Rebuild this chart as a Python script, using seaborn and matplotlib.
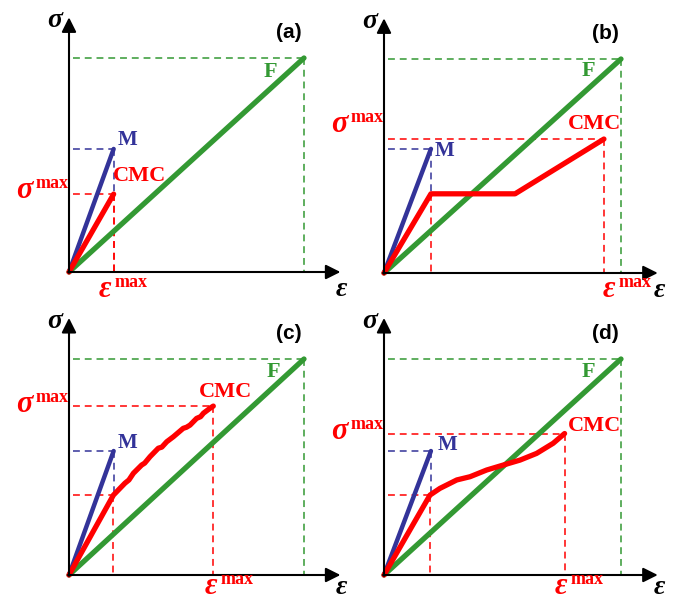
import matplotlib
matplotlib.use("Agg")
import matplotlib.pyplot as plt
import seaborn as sns

sns.set_theme(style="white")
plt.rcParams["font.family"] = ["Liberation Serif", "DejaVu Serif"]

GREEN = "#339933"
BLUE = "#333399"
RED = "#ff0000"

# ---- data (normalised: fibre failure point F = (1, 1)) ----
f_x = [0, 1.0]
f_y = [0, 1.0]

m_a_x = [0, 0.19]
m_a_y = [0, 0.575]
cmc_a_x = [0, 0.19]
cmc_a_y = [0, 0.364]

m_b_x = [0, 0.198]
m_b_y = [0, 0.58]
cmc_b_x = [0, 0.198, 0.553, 0.928]
cmc_b_y = [0, 0.37, 0.37, 0.626]

m_c_x = [0, 0.19]
m_c_y = [0, 0.574]
cmc_c_x = [0, 0.189, 0.238, 0.255, 0.274, 0.309, 0.322, 0.345, 0.380, 0.395,
           0.416, 0.444, 0.486, 0.500, 0.515, 0.543, 0.560, 0.572, 0.600, 0.614]
cmc_c_y = [0, 0.370, 0.425, 0.440, 0.471, 0.509, 0.518, 0.548, 0.587, 0.592,
           0.617, 0.640, 0.679, 0.684, 0.694, 0.725, 0.733, 0.749, 0.772, 0.782]

m_d_x = [0, 0.198]
m_d_y = [0, 0.574]
cmc_d_x = [0, 0.194, 0.236, 0.307, 0.363, 0.433, 0.503, 0.574, 0.644, 0.714, 0.762]
cmc_d_y = [0, 0.370, 0.401, 0.440, 0.455, 0.486, 0.509, 0.532, 0.563, 0.610, 0.655]

panels = [
    dict(tag="(a)", origin=(69, 272), scale=(235, 214),
         m_x=m_a_x, m_y=m_a_y, cmc_x=cmc_a_x, cmc_y=cmc_a_y, knee_h=False,
         lab_F=(0.855, 0.935), lab_M=(0.251, 0.617), lab_CMC=(0.30, 0.449),
         lab_smax=(-0.151, 0.346), lab_emax=(0.185, -0.117), eps_y=-0.112),
    dict(tag="(b)", origin=(384, 273), scale=(237, 214),
         m_x=m_b_x, m_y=m_b_y, cmc_x=cmc_b_x, cmc_y=cmc_b_y, knee_h=False,
         lab_F=(0.862, 0.944), lab_M=(0.257, 0.57), lab_CMC=(0.89, 0.696),
         lab_smax=(-0.148, 0.657), lab_emax=(0.981, -0.112), eps_y=-0.112),
    dict(tag="(c)", origin=(69, 575), scale=(235, 216),
         m_x=m_c_x, m_y=m_c_y, cmc_x=cmc_c_x, cmc_y=cmc_c_y, knee_h=True,
         lab_F=(0.868, 0.94), lab_M=(0.251, 0.611), lab_CMC=(0.664, 0.847),
         lab_smax=(-0.149, 0.755), lab_emax=(0.636, -0.088), eps_y=-0.088),
    dict(tag="(d)", origin=(384, 575), scale=(237, 216),
         m_x=m_d_x, m_y=m_d_y, cmc_x=cmc_d_x, cmc_y=cmc_d_y, knee_h=True,
         lab_F=(0.862, 0.94), lab_M=(0.266, 0.60), lab_CMC=(0.89, 0.69),
         lab_smax=(-0.148, 0.63), lab_emax=(0.778, -0.088), eps_y=-0.088),
]

W, H = 678, 600
XLIM = (-0.3, 1.22)
YLIM = (-0.16, 1.25)

greek = dict(family="Liberation Serif", style="italic", fontweight="bold")


def sup_label(ax, sym, xy, color, size=22):
    # symbol ends at xy (baseline), "max" starts just right of it, raised
    ax.annotate(sym, xy=xy, xytext=(-1, 0), textcoords="offset pixels",
                ha="right", va="baseline", fontsize=size, color=color, **greek)
    ax.annotate("max", xy=xy, xytext=(2, 10), textcoords="offset pixels",
                ha="left", va="baseline", fontsize=13, fontweight="bold",
                family="Liberation Serif", color=color)


fig = plt.figure(figsize=(W / 100, H / 100), dpi=100)

dash = dict(lw=1.1, dashes=(4.5, 3.2))
x0 = 0.015  # dashed guides start just right of the axis

for p in panels:
    ox, oy = p["origin"]
    sx, sy = p["scale"]
    left = (ox + XLIM[0] * sx) / W
    bottom = 1 - (oy - YLIM[0] * sy) / H
    ax = fig.add_axes([left, bottom, (XLIM[1] - XLIM[0]) * sx / W,
                       (YLIM[1] - YLIM[0]) * sy / H])
    ax.set_xlim(XLIM)
    ax.set_ylim(YLIM)
    ax.axis("off")

    # axes with arrows
    ax.annotate("", xy=(1.155, 0), xytext=(-0.004, 0),
                arrowprops=dict(arrowstyle="-|>", lw=1.5, color="black",
                                mutation_scale=22, shrinkA=0, shrinkB=0))
    ax.annotate("", xy=(0, 1.19), xytext=(0, -0.004),
                arrowprops=dict(arrowstyle="-|>", lw=1.5, color="black",
                                mutation_scale=22, shrinkA=0, shrinkB=0))

    mx, my = p["m_x"][-1], p["m_y"][-1]
    kx, ky = p["cmc_x"][1], p["cmc_y"][1]
    ex, ey = p["cmc_x"][-1], p["cmc_y"][-1]

    # dashed guide lines
    ax.plot([x0, 1], [1, 1], color=GREEN, **dash)
    ax.plot([1, 1], [1, 0], color=GREEN, **dash)
    ax.plot([x0, mx], [my, my], color=BLUE, **dash)
    ax.plot([mx, mx], [my, ky], color=BLUE, **dash)
    ax.plot([kx, kx], [ky, 0], color=RED, **dash)
    if p["knee_h"]:
        ax.plot([x0, kx], [ky, ky], color=RED, **dash)
    ax.plot([x0, ex], [ey, ey], color=RED, **dash)
    ax.plot([ex, ex], [ey, 0], color=RED, **dash)

    # curves
    sns.lineplot(x=f_x, y=f_y, ax=ax, color=GREEN, lw=3.8, sort=False, estimator=None)
    sns.lineplot(x=p["m_x"], y=p["m_y"], ax=ax, color=BLUE, lw=3.2, sort=False, estimator=None)
    sns.lineplot(x=p["cmc_x"], y=p["cmc_y"], ax=ax, color=RED, lw=3.8, sort=False, estimator=None)

    # labels
    ax.text(-0.03, 1.145, "σ", ha="right", va="baseline", fontsize=20, color="black", **greek)
    ax.text(1.16, p["eps_y"], "ε", ha="center", va="baseline", fontsize=20, color="black", **greek)
    ax.text(0.935, 1.117, p["tag"], ha="center", va="center", fontsize=15,
            fontweight="bold", family="Liberation Sans", color="black")
    ax.text(*p["lab_F"], "F", ha="center", va="center", fontsize=16, fontweight="bold", color=GREEN)
    ax.text(*p["lab_M"], "M", ha="center", va="center", fontsize=15, fontweight="bold", color=BLUE)
    ax.text(*p["lab_CMC"], "CMC", ha="center", va="center", fontsize=16, fontweight="bold", color=RED)
    sup_label(ax, "σ", p["lab_smax"], RED)
    sup_label(ax, "ε", p["lab_emax"], RED)

fig.savefig("out.png", dpi=100)
